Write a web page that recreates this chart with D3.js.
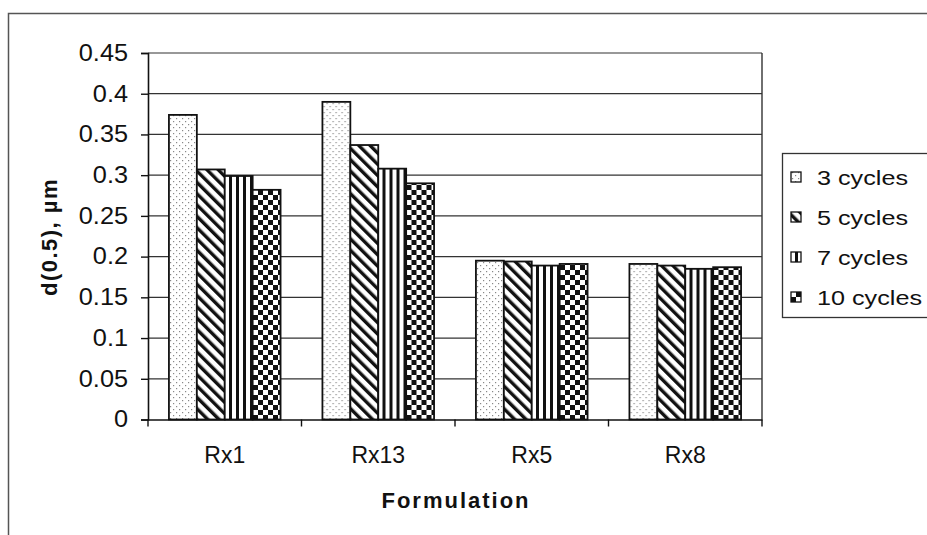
<!DOCTYPE html>
<html>
<head>
<meta charset="utf-8">
<script src="https://cdn.jsdelivr.net/npm/d3@7"></script>
<style>
  html, body { margin: 0; padding: 0; background: #fff; }
  svg { display: block; font-family: "Liberation Sans", Arial, sans-serif; }
</style>
</head>
<body>
<svg id="chart" width="927" height="535"></svg>
<script>
// Median particle size d(0.5) per formulation after repeated cycles
const categories = ["Rx1", "Rx13", "Rx5", "Rx8"];
const seriesNames = ["3 cycles", "5 cycles", "7 cycles", "10 cycles"];
const cycles3  = [0.374, 0.390, 0.195, 0.191];
const cycles5  = [0.307, 0.337, 0.194, 0.189];
const cycles7  = [0.299, 0.308, 0.189, 0.185];
const cycles10 = [0.282, 0.290, 0.191, 0.187];
const yTicks = [0, 0.05, 0.1, 0.15, 0.2, 0.25, 0.3, 0.35, 0.4, 0.45];

const seriesValues = [cycles3, cycles5, cycles7, cycles10];
const patternIds = ["pDots", "pDiag", "pVert", "pCheck"];

const svg = d3.select("#chart");
const defs = svg.append("defs");

// Fill patterns for the four series
const dots = defs.append("pattern").attr("id", "pDots")
  .attr("patternUnits", "userSpaceOnUse").attr("width", 6).attr("height", 6);
dots.append("rect").attr("width", 6).attr("height", 6).attr("fill", "#fff");
dots.append("rect").attr("x", 1).attr("y", 1).attr("width", 1.2).attr("height", 1.2).attr("fill", "#888");
dots.append("rect").attr("x", 4).attr("y", 4).attr("width", 1.2).attr("height", 1.2).attr("fill", "#888");

const diag = defs.append("pattern").attr("id", "pDiag")
  .attr("patternUnits", "userSpaceOnUse").attr("width", 8).attr("height", 8)
  .attr("patternTransform", "rotate(-45)");
diag.append("rect").attr("width", 8).attr("height", 8).attr("fill", "#fff");
diag.append("rect").attr("x", 0).attr("y", 0).attr("width", 3.4).attr("height", 8).attr("fill", "#111");

const vert = defs.append("pattern").attr("id", "pVert")
  .attr("patternUnits", "userSpaceOnUse").attr("width", 7).attr("height", 7);
vert.append("rect").attr("width", 7).attr("height", 7).attr("fill", "#fff");
vert.append("rect").attr("x", 4).attr("width", 3).attr("height", 7).attr("fill", "#111");

const check = defs.append("pattern").attr("id", "pCheck")
  .attr("patternUnits", "userSpaceOnUse").attr("width", 10).attr("height", 10);
check.append("rect").attr("width", 10).attr("height", 10).attr("fill", "#fff");
check.append("rect").attr("x", 0).attr("y", 0).attr("width", 5).attr("height", 5).attr("fill", "#111");
check.append("rect").attr("x", 5).attr("y", 5).attr("width", 5).attr("height", 5).attr("fill", "#111");

// Outer chart frame
svg.append("rect").attr("x", 8.5).attr("y", 13.5).attr("width", 940).attr("height", 540)
  .attr("fill", "none").attr("stroke", "#555").attr("stroke-width", 1.5);

const plot = { left: 148, right: 762, top: 53, bottom: 419.5 };

const x = d3.scaleBand().domain(categories).range([plot.left, plot.right]).padding(0);
const xInner = d3.scaleBand().domain(seriesNames).range([0, x.bandwidth()])
  .paddingInner(0).paddingOuter(0.75);
const y = d3.scaleLinear().domain([0, 0.45]).range([plot.bottom, plot.top]);

// Horizontal gridlines
svg.append("g").selectAll("line").data(yTicks.filter(d => d > 0)).join("line")
  .attr("x1", plot.left).attr("x2", plot.right)
  .attr("y1", d => y(d)).attr("y2", d => y(d))
  .attr("stroke", "#333").attr("stroke-width", 1.2);

// Right edge of the plot area
svg.append("line").attr("x1", plot.right).attr("x2", plot.right)
  .attr("y1", plot.top).attr("y2", plot.bottom)
  .attr("stroke", "#333").attr("stroke-width", 1.4);

// Bars
const groups = svg.append("g").selectAll("g").data(categories).join("g")
  .attr("transform", d => `translate(${x(d)},0)`);
groups.selectAll("rect")
  .data((c, ci) => seriesNames.map((s, si) => ({ s, si, v: seriesValues[si][ci] })))
  .join("rect")
  .attr("x", d => xInner(d.s))
  .attr("y", d => y(d.v))
  .attr("width", xInner.bandwidth())
  .attr("height", d => plot.bottom - y(d.v))
  .attr("fill", d => `url(#${patternIds[d.si]})`)
  .attr("stroke", "#111").attr("stroke-width", 1.8);

// Y axis
const yAxis = svg.append("g").attr("transform", `translate(${plot.left},0)`)
  .call(d3.axisLeft(y).tickValues(yTicks).tickSize(7).tickPadding(0)
    .tickFormat(d => d3.format("")(+d.toFixed(2))));
yAxis.select(".domain").attr("stroke", "#111").attr("stroke-width", 1.6);
yAxis.selectAll(".tick line").attr("stroke", "#111").attr("stroke-width", 1.4);
yAxis.selectAll(".tick text")
  .attr("x", null)
  .attr("transform", "translate(-20,0) scale(1.1,1)")
  .attr("font-size", 23).attr("fill", "#111")
  .attr("font-family", "Liberation Sans, Arial, sans-serif");

// X axis with ticks between categories
const xAxis = svg.append("g").attr("transform", `translate(0,${plot.bottom})`)
  .call(d3.axisBottom(x).tickSize(0).tickPadding(27));
xAxis.select(".domain").attr("stroke", "#111").attr("stroke-width", 1.6);
xAxis.selectAll(".tick text").attr("font-size", 23).attr("fill", "#111")
  .attr("font-family", "Liberation Sans, Arial, sans-serif");
const boundaries = categories.map(c => x(c)).concat([plot.right]);
svg.append("g").selectAll("line").data(boundaries).join("line")
  .attr("x1", d => d).attr("x2", d => d)
  .attr("y1", plot.bottom).attr("y2", plot.bottom + 7)
  .attr("stroke", "#111").attr("stroke-width", 1.4);

// Axis titles
svg.append("text").attr("x", (plot.left + plot.right) / 2 + 1).attr("y", 508)
  .attr("text-anchor", "middle").attr("font-size", 22).attr("font-weight", "bold")
  .attr("letter-spacing", 2).attr("fill", "#111").text("Formulation");
svg.append("text")
  .attr("transform", `translate(57,${237}) rotate(-90)`)
  .attr("text-anchor", "middle").attr("font-size", 22).attr("font-weight", "bold")
  .attr("letter-spacing", 1.5).attr("fill", "#111").text("d(0.5), µm");

// Legend
const legend = svg.append("g");
legend.append("rect").attr("x", 782.5).attr("y", 153.5).attr("width", 200).attr("height", 164)
  .attr("fill", "#fff").attr("stroke", "#333").attr("stroke-width", 1.3);
const items = legend.selectAll("g.item").data(seriesNames).join("g").attr("class", "item")
  .attr("transform", (d, i) => `translate(791,${177 + i * 40})`);
items.append("rect").attr("x", 0).attr("y", -5).attr("width", 10).attr("height", 10)
  .attr("fill", (d, i) => `url(#${patternIds[i]})`).attr("stroke", "#111").attr("stroke-width", 1.3);
items.append("text")
  .attr("transform", "translate(26,8) scale(1.2,1)")
  .attr("font-size", 21).attr("fill", "#111")
  .text(d => d);
</script>
</body>
</html>
